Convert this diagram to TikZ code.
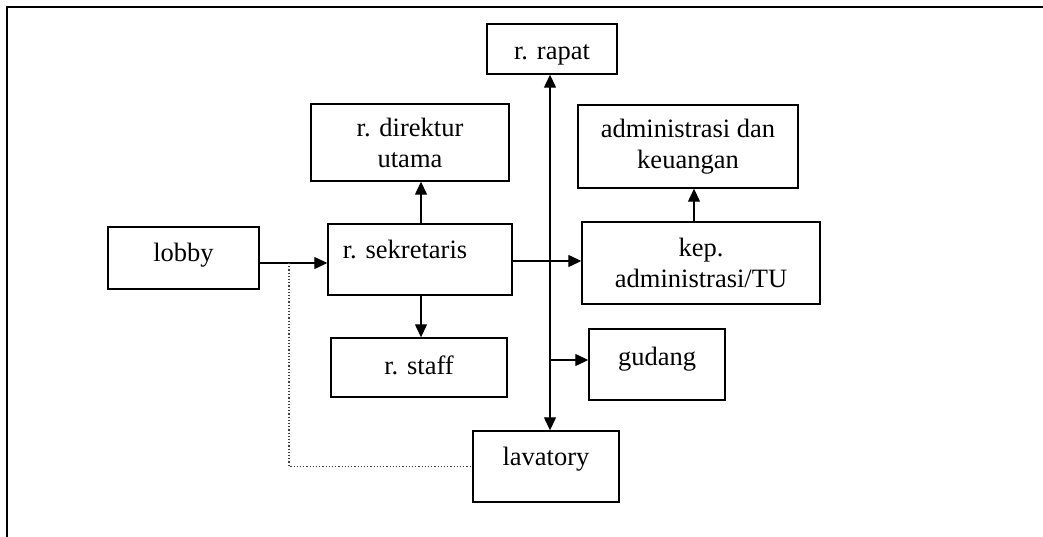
\documentclass[tikz,border=0pt]{standalone}
\usepackage{fontspec}
\setmainfont{Liberation Serif}
\usetikzlibrary{arrows.meta}
\begin{document}
\begin{tikzpicture}[x=1pt,y=-1pt,
  >={Triangle[length=13pt,width=12pt]},
  box/.style={draw, line width=1.4pt, inner sep=0pt, font=\fontsize{26.5}{31}\selectfont},
  one/.style={text height=0pt, text depth=0pt},
  two/.style={align=center},
  conn/.style={line width=1.3pt, ->},
  dots/.style={line width=1.2pt, black!75, dotted},
  frame/.style={line width=1.6pt}
  ]
\useasboundingbox (0,0) rectangle (1043,537);
\draw[frame] (7,537) -- (7,7) -- (1043,7);

\node[box, one, minimum width=130pt, minimum height=50pt] (rapat) at (552,49) {\raisebox{-11pt}{r. rapat}};
\node[box, two, minimum width=198pt, minimum height=77pt] (dir) at (410,142.5) {r. direktur\\utama};
\node[box, two, minimum width=220pt, minimum height=83pt] (adm) at (688,146.5) {administrasi dan\\keuangan};
\node[box, one, minimum width=151pt, minimum height=62pt] (lobby) at (183.5,258) {\raisebox{-3.7pt}{lobby}};
\node[box, one, minimum width=184pt, minimum height=71pt] (sek) at (420,259.5) {\raisebox{1.2pt}{r. sekretaris}\hspace*{30pt}};
\node[box, two, minimum width=238pt, minimum height=82pt] (kep) at (701,263) {kep.\\administrasi/TU};
\node[box, one, minimum width=176pt, minimum height=59pt] (staff) at (419,367.5) {\raisebox{-6.5pt}{r. staff}};
\node[box, one, minimum width=136pt, minimum height=71pt] (gud) at (657,364.5) {\raisebox{-0.5pt}{gudang}};
\node[box, one, minimum width=146pt, minimum height=71pt] (lav) at (546,466.5) {\raisebox{1.5pt}{lavatory}};

\coordinate (sx) at (550,0);
\coordinate (dx) at (421,0);
\coordinate (ax) at (694,0);
\coordinate (dotx) at (289,0);
\coordinate (ly) at (0,263);
\coordinate (ky) at (0,261);
\coordinate (gy) at (0,360);

\draw[conn, <->] (rapat.south -| sx) -- (lav.north -| sx);
\draw[conn] (sx |- gy) -- (gud.west |- gy);
\draw[conn] (lobby.east |- ly) -- (sek.west |- ly);
\draw[conn] (sek.east |- ky) -- (kep.west |- ky);
\draw[conn] (sek.north -| dx) -- (dir.south -| dx);
\draw[conn] (sek.south -| dx) -- (staff.north -| dx);
\draw[conn] (kep.north -| ax) -- (adm.south -| ax);
\draw[dots] (dotx |- ly) |- (lav.west);
\end{tikzpicture}
\end{document}
